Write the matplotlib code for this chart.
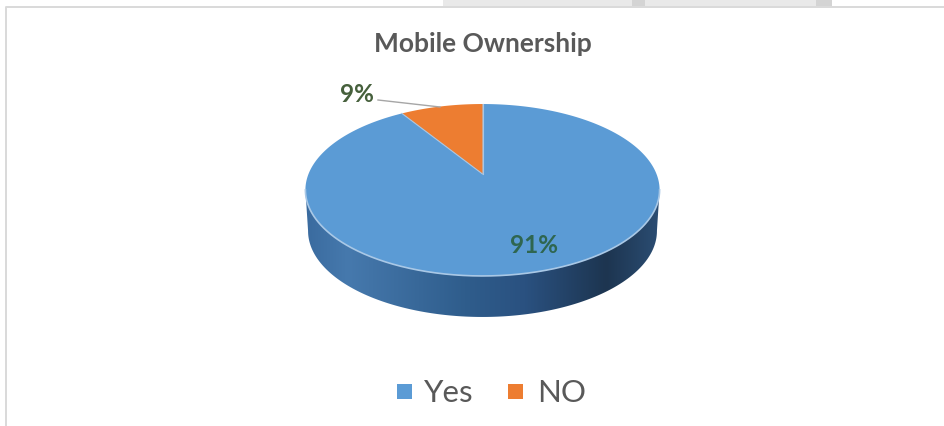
import numpy as np
import matplotlib.pyplot as plt
from matplotlib.colors import LinearSegmentedColormap
from matplotlib.patches import Polygon, Rectangle

categories = ['Yes', 'NO']
shares = [91, 9]
pct_labels = ['91%', '9%']
colors = ['#5b9bd5', '#ed7d31']
title = 'Mobile Ownership'

plt.rcParams['font.family'] = ['Lato', 'DejaVu Sans']

fig = plt.figure(figsize=(9.45, 4.27), dpi=100)
ax = fig.add_axes([0, 0, 1, 1])
ax.set_xlim(0, 945)
ax.set_ylim(427, 0)
ax.axis('off')

# tilted disc: apex position and projection strength
cx, cy = 482.5, 175
rx, ry, k = 174, 83, 0.186
depth = 41


def project(theta):
    # theta is measured clockwise from twelve o'clock
    u, v = np.sin(theta), np.cos(theta)
    w = 1 + k * v
    return cx + rx * u / w, cy - ry * v / w


# bits of the page around the chart frame
ax.add_patch(Rectangle((443, 0), 389, 7, fc='#e9e9e9', ec='none'))
ax.add_patch(Rectangle((632, 0), 13, 7, fc='#d4d4d4', ec='none'))
ax.add_patch(Rectangle((816, 0), 16, 7, fc='#d4d4d4', ec='none'))
ax.plot([6, 6, 945], [427, 8, 8], color='#d9d9d9', lw=1.4)

# side wall of the disc, shaded from left to right
full = np.linspace(0, 2 * np.pi, 720)
rim_x, rim_y = project(full)
left = np.argmin(rim_x)
right = np.argmax(rim_x)
front_x, front_y = rim_x[right:left + 1], rim_y[right:left + 1]
low_x = cx + (front_x - cx) * 0.985
low_y = front_y + depth
wall = Polygon(np.r_[np.c_[front_x, front_y], np.c_[low_x, low_y][::-1]],
               closed=True, fc='none', ec='none')
ax.add_patch(wall)
shade = LinearSegmentedColormap.from_list('wall', [
    (0.0, '#3a6b9f'), (0.12, '#4679ad'), (0.45, '#2f5d8c'),
    (0.62, '#2a5180'), (0.85, '#1d3550'), (1.0, '#2b4d73')])
img = ax.imshow(np.linspace(0, 1, 256)[None, :], cmap=shade, aspect='auto',
                extent=(front_x.min(), front_x.max(), low_y.max(), front_y.min()))
img.set_clip_path(wall)
ax.set_xlim(0, 945)
ax.set_ylim(427, 0)

# top face slices, running clockwise from twelve o'clock
edges = np.r_[0, np.cumsum(shares)] / np.sum(shares) * 2 * np.pi
for i, color in enumerate(colors):
    t = np.linspace(edges[i], edges[i + 1], 400)
    x, y = project(t)
    ax.fill(np.r_[cx, x], np.r_[cy, y], fc=color, ec='none', zorder=3)
    ax.plot(np.r_[cx, x[0]], np.r_[cy, y[0]], color='#a9c6e2', lw=0.8, zorder=4)
ax.plot(front_x, front_y, color='#a9c8e6', lw=1.2, zorder=4)

# value labels and the leader line for the small slice
ax.text(534, 246, pct_labels[0], color='#2f6650', fontsize=17.5, fontweight='bold',
        ha='center', va='center', zorder=5)
ax.text(357, 95, pct_labels[1], color='#46603c', fontsize=17.5, fontweight='bold',
        ha='center', va='center', zorder=5)
ax.plot([378, 440], [101, 108], color='#a6a6a6', lw=1, zorder=5)

ax.text(483, 44, title, color='#595959', fontsize=19, fontweight='bold',
        ha='center', va='center')

# legend
for name, color, box_x, text_x in zip(categories, colors, [397, 508], [424, 537]):
    ax.add_patch(Rectangle((box_x, 385), 15, 15, fc=color, ec='none'))
    ax.text(text_x, 393, name, color='#595959', fontsize=22.5, ha='left', va='center')

fig.savefig('out.png', dpi=100)
